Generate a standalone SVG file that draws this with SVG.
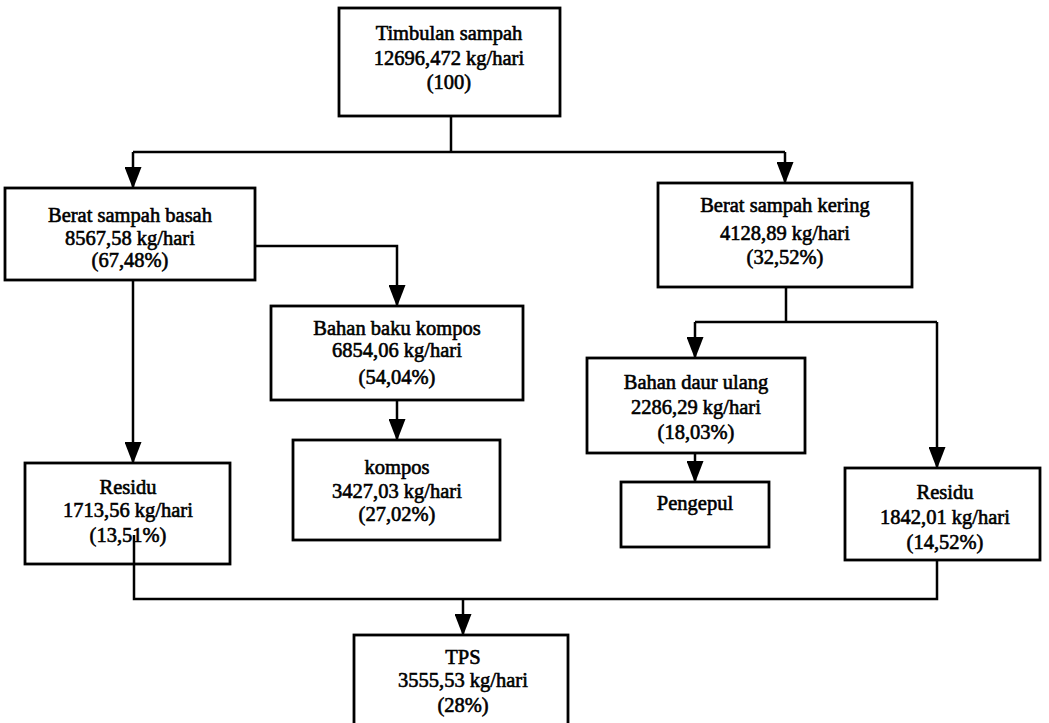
<svg xmlns="http://www.w3.org/2000/svg" width="1049" height="723" viewBox="0 0 1049 723">
  <style>
    .box { fill: #ffffff; stroke: #000000; stroke-width: 2.8; }
    .lbl { font-family: "Liberation Serif", "Times New Roman", serif; font-size: 20.5px; fill: #000000; stroke: #000000; stroke-width: 0.6; text-anchor: middle; }
    .wire { fill: none; stroke: #000000; stroke-width: 2.5; }
  </style>
  <defs>
    <marker id="arrow" markerUnits="userSpaceOnUse" markerWidth="22" markerHeight="17" viewBox="0 0 22 17" refX="21" refY="8.5" orient="auto">
      <path d="M0,0 L22,8.5 L0,17 Z" fill="#000000"/>
    </marker>
  </defs>

  <rect width="1049" height="723" fill="#ffffff"/>

  <g id="timbulan">
    <rect class="box" x="339" y="8" width="221" height="108"/>
    <text class="lbl" x="449" y="40">Timbulan sampah</text>
    <text class="lbl" x="449" y="65">12696,472 kg/hari</text>
    <text class="lbl" x="449" y="89">(100)</text>
  </g>

  <g id="basah">
    <rect class="box" x="5" y="188" width="250" height="92"/>
    <text class="lbl" x="130" y="222">Berat sampah basah</text>
    <text class="lbl" x="130" y="245">8567,58 kg/hari</text>
    <text class="lbl" x="130" y="267">(67,48%)</text>
  </g>

  <g id="kering">
    <rect class="box" x="658" y="183" width="254" height="104"/>
    <text class="lbl" x="785" y="212">Berat sampah kering</text>
    <text class="lbl" x="785" y="240">4128,89 kg/hari</text>
    <text class="lbl" x="785" y="264">(32,52%)</text>
  </g>

  <g id="bahan-baku-kompos">
    <rect class="box" x="271" y="306" width="252" height="94"/>
    <text class="lbl" x="397" y="335">Bahan baku kompos</text>
    <text class="lbl" x="397" y="357">6854,06 kg/hari</text>
    <text class="lbl" x="397" y="384">(54,04%)</text>
  </g>

  <g id="kompos">
    <rect class="box" x="293" y="440" width="207" height="100"/>
    <text class="lbl" x="397" y="474">kompos</text>
    <text class="lbl" x="397" y="498">3427,03 kg/hari</text>
    <text class="lbl" x="397" y="521">(27,02%)</text>
  </g>

  <g id="daur-ulang">
    <rect class="box" x="587" y="358" width="218" height="95"/>
    <text class="lbl" x="696" y="389">Bahan daur ulang</text>
    <text class="lbl" x="696" y="414">2286,29 kg/hari</text>
    <text class="lbl" x="696" y="439">(18,03%)</text>
  </g>

  <g id="pengepul">
    <rect class="box" x="621" y="482" width="148" height="65"/>
    <text class="lbl" x="695" y="510">Pengepul</text>
  </g>

  <g id="residu-basah">
    <rect class="box" x="25" y="463" width="205" height="101"/>
    <text class="lbl" x="128" y="494">Residu</text>
    <text class="lbl" x="128" y="517">1713,56 kg/hari</text>
    <text class="lbl" x="128" y="542">(13,51%)</text>
  </g>

  <g id="residu-kering">
    <rect class="box" x="845" y="468" width="195" height="92"/>
    <text class="lbl" x="945" y="499">Residu</text>
    <text class="lbl" x="945" y="524">1842,01 kg/hari</text>
    <text class="lbl" x="945" y="549">(14,52%)</text>
  </g>

  <g id="tps">
    <rect class="box" x="354" y="635" width="214" height="100"/>
    <text class="lbl" x="463" y="664">TPS</text>
    <text class="lbl" x="463" y="687">3555,53 kg/hari</text>
    <text class="lbl" x="463" y="712">(28%)</text>
  </g>

  <!-- connectors, drawn last so the residue line shows through its box -->
  <g id="connectors">
    <path class="wire" d="M451,116 V152 M133,152 H785"/>
    <path class="wire" d="M133,152 V188" marker-end="url(#arrow)"/>
    <path class="wire" d="M785,152 V183" marker-end="url(#arrow)"/>
    <path class="wire" d="M133,280 V463" marker-end="url(#arrow)"/>
    <path class="wire" d="M255,246 H397 V306" marker-end="url(#arrow)"/>
    <path class="wire" d="M397,400 V440" marker-end="url(#arrow)"/>
    <path class="wire" d="M786,287 V322 M695,322 H937"/>
    <path class="wire" d="M695,322 V358" marker-end="url(#arrow)"/>
    <path class="wire" d="M937,322 V468" marker-end="url(#arrow)"/>
    <path class="wire" d="M695,453 V482" marker-end="url(#arrow)"/>
    <path class="wire" d="M134,535 V599 H937 V560"/>
    <path class="wire" d="M463,599 V635" marker-end="url(#arrow)"/>
  </g>
</svg>
